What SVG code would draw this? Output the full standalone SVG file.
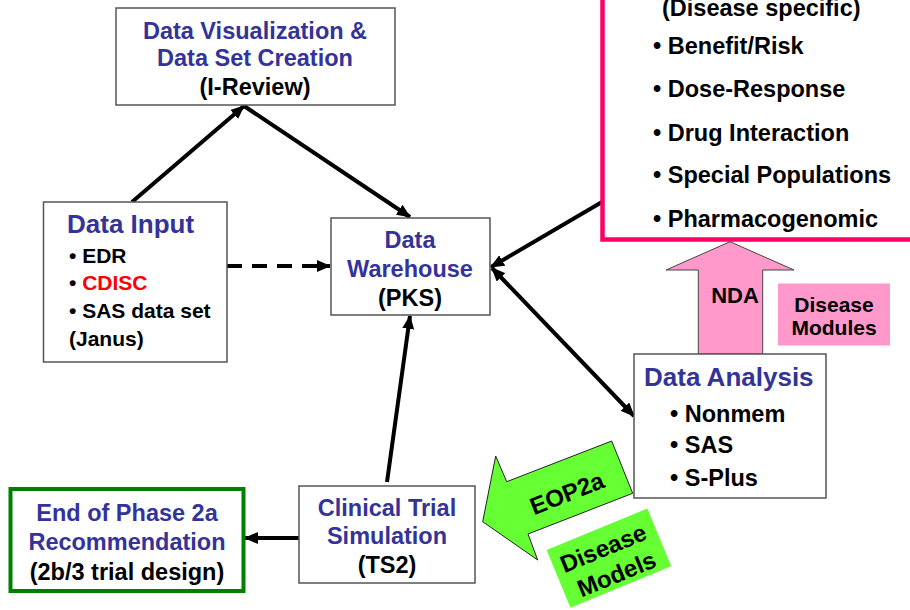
<svg xmlns="http://www.w3.org/2000/svg" width="910" height="610" viewBox="0 0 910 610">
<style>
text{font-family:"Liberation Sans",Arial,sans-serif;font-weight:bold;}
.box{fill:#fff;stroke:#555;stroke-width:1.5;}
.t{fill:#333399;font-size:23.5px;}
.tb{fill:#333399;font-size:26px;}
.k{fill:#000;font-size:23.5px;}
.ks{fill:#000;font-size:21px;}
.c{text-anchor:middle;}
.con{stroke:#000;stroke-width:4;fill:none;}
</style>
<defs>
<marker id="ah" viewBox="0 0 14 12" markerWidth="14" markerHeight="12" refX="13" refY="6" orient="auto-start-reverse" markerUnits="userSpaceOnUse">
<path d="M0,0 L14,6 L0,12 z" fill="#000"/>
</marker>
</defs>
<rect width="910" height="610" fill="#fff"/>

<g id="connectors">
<line class="con" x1="132" y1="202" x2="244" y2="106" marker-end="url(#ah)"/>
<line class="con" x1="244" y1="106" x2="410" y2="217" marker-end="url(#ah)"/>
<line class="con" x1="227" y1="266" x2="330" y2="266" stroke-width="5" stroke-dasharray="15,10" marker-end="url(#ah)"/>
<line class="con" x1="602" y1="202" x2="491" y2="267" marker-end="url(#ah)"/>
<line class="con" x1="492" y1="268" x2="634" y2="416" marker-start="url(#ah)" marker-end="url(#ah)"/>
<line class="con" x1="387" y1="482" x2="410" y2="316" marker-end="url(#ah)"/>
<line class="con" x1="299" y1="538" x2="245" y2="538" marker-end="url(#ah)"/>
</g>

<g id="dataviz">
<rect class="box" x="116" y="8" width="279" height="97"/>
<text class="t c" x="255" y="38.5">Data Visualization &amp;</text>
<text class="t c" x="255" y="66">Data Set Creation</text>
<text class="k c" x="255" y="95">(I-Review)</text>
</g>

<g id="datainput">
<rect class="box" x="43.5" y="202" width="183.5" height="160"/>
<text class="tb" x="67" y="233">Data Input</text>
<text class="ks" x="69" y="262.5">• EDR</text>
<text class="ks" x="69" y="289.5">• <tspan fill="#FF0000">CDISC</tspan></text>
<text class="ks" x="69" y="317.5">• SAS data set</text>
<text class="ks" x="69" y="345.5">(Janus)</text>
</g>

<g id="warehouse">
<rect class="box" x="331" y="218" width="159" height="97"/>
<text class="t c" x="410" y="247.5">Data</text>
<text class="t c" x="410" y="277">Warehouse</text>
<text class="k c" x="410" y="305.5">(PKS)</text>
</g>

<g id="diseasespecific">
<rect x="602.5" y="-20" width="330" height="259.5" fill="#fff" stroke="#FF0066" stroke-width="4.5"/>
<text class="k" x="662" y="16">(Disease specific)</text>
<text class="k" x="653" y="54">• Benefit/Risk</text>
<text class="k" x="653" y="97.3">• Dose-Response</text>
<text class="k" x="653" y="140.7">• Drug Interaction</text>
<text class="k" x="653" y="183.3">• Special Populations</text>
<text class="k" x="653" y="226.7">• Pharmacogenomic</text>
</g>

<g id="nda">
<polygon points="730,241.7 794,270 762.7,270 762.7,354 698.3,354 698.3,270 666,270" fill="#FF99CC" stroke="#444" stroke-width="1"/>
<text class="k c" x="735" y="303" style="font-size:22px">NDA</text>
</g>

<g id="diseasemodules">
<rect x="778" y="283.5" width="112" height="62" fill="#FF99CC"/>
<text class="k c" x="834" y="311.5" style="font-size:21px">Disease</text>
<text class="k c" x="834" y="334.5" style="font-size:21px">Modules</text>
</g>

<g id="dataanalysis">
<rect class="box" x="634" y="354" width="192" height="144"/>
<text class="tb" x="644" y="386">Data Analysis</text>
<text class="k" x="670" y="421.5">• Nonmem</text>
<text class="k" x="670" y="453">• SAS</text>
<text class="k" x="670" y="485.5">• S-Plus</text>
</g>

<g id="eop2a">
<polygon points="482.7,521.7 495.7,456 506.7,481.7 611.7,441 632.7,493.3 528,534 537.7,560" fill="#66FF33" stroke="#222" stroke-width="1"/>
<text class="k c" x="0" y="0" style="font-size:24px" transform="translate(570,501) rotate(-21.5)">EOP2a</text>
</g>

<g id="diseasemodels">
<g transform="translate(608.9,558.2) rotate(-22.4)">
<rect x="-54.5" y="-31.25" width="109" height="62.5" fill="#66FF33"/>
<text class="k c" x="-1.5" y="-3" style="font-size:24px">Disease</text>
<text class="k c" x="1" y="26" style="font-size:24px">Models</text>
</g>
</g>

<g id="clinical">
<rect class="box" x="299" y="486" width="176" height="97"/>
<text class="t c" x="387" y="515.5">Clinical Trial</text>
<text class="t c" x="387" y="543.5">Simulation</text>
<text class="k c" x="387" y="572.5">(TS2)</text>
</g>

<g id="endphase">
<rect x="10.5" y="489" width="233" height="102" fill="#fff" stroke="#008000" stroke-width="4"/>
<text class="t c" x="127" y="521">End of Phase 2a</text>
<text class="t c" x="127" y="550">Recommendation</text>
<text class="k c" x="127" y="579.5">(2b/3 trial design)</text>
</g>
</svg>
